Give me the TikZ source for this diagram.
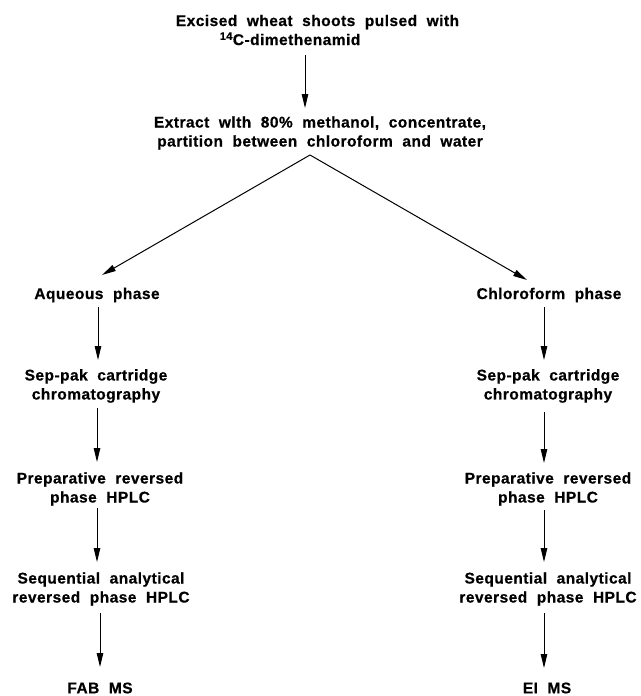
\documentclass[tikz,border=0pt]{standalone}
\usepackage{fontspec}
\newfontfamily\lbl[LetterSpace=3,WordSpace=2,FakeBold=0.6]{Liberation Sans}
\usetikzlibrary{arrows.meta,calc}
\begin{document}
\begin{tikzpicture}[x=1pt,y=-1pt,
  lab/.style={font=\lbl\bfseries\fontsize{15.5}{19}\selectfont, align=center, inner sep=0pt},
  arr/.style={-{Triangle[length=14pt,width=6.5pt]}, line width=1pt}]
\useasboundingbox (0,0) rectangle (640,696);
\node[lab, align=left] (top) at (317.5,30) {Excised wheat shoots pulsed with\\\hspace*{44pt}\textsuperscript{14}C-dimethenamid};
\node[lab] (ext) at (320,133) {Extract wlth 80\% methanol, concentrate,\\partition between chloroform and water};
\node[lab] (aq) at (97,295) {Aqueous phase};
\node[lab] (cl) at (549,295) {Chloroform phase};
\node[lab] (sepL) at (96,386) {Sep-pak cartridge\\chromatography};
\node[lab] (sepR) at (548,386) {Sep-pak cartridge\\chromatography};
\node[lab] (prepL) at (100,489) {Preparative reversed\\phase HPLC};
\node[lab] (prepR) at (548,489) {Preparative reversed\\phase HPLC};
\node[lab] (seqL) at (101,589) {Sequential analytical\\reversed phase HPLC};
\node[lab] (seqR) at (548,589) {Sequential analytical\\reversed phase HPLC};
\node[lab] (fab) at (100,688) {FAB MS};
\node[lab] (ei) at (547,688) {EI MS};
\coordinate (apex) at ($(ext)+(-10,22)$);
\draw[arr] ($(top)+(-12.5,25)$) -- ($(ext)+(-15,-25)$);
\draw[arr] (apex) -- ($(aq)+(5,-20)$);
\draw[arr] (apex) -- ($(cl)+(-22,-15)$);
\draw[arr] ($(aq)+(1,12)$) -- ($(sepL)+(2,-26)$);
\draw[arr] ($(cl)+(-5,12)$) -- ($(sepR)+(-4,-26)$);
\draw[arr] ($(sepL)+(1,22)$) -- ($(prepL)+(-3,-27)$);
\draw[arr] ($(sepR)+(-4,26)$) -- ($(prepR)+(-4,-26)$);
\draw[arr] ($(prepL)+(-3,19)$) -- ($(seqL)+(-4,-27)$);
\draw[arr] ($(prepR)+(-4,21)$) -- ($(seqR)+(-4,-27)$);
\draw[arr] ($(seqL)+(-1,24)$) -- ($(fab)+(0,-21)$);
\draw[arr] ($(seqR)+(-4,24)$) -- ($(ei)+(-3,-20)$);
\end{tikzpicture}
\end{document}
